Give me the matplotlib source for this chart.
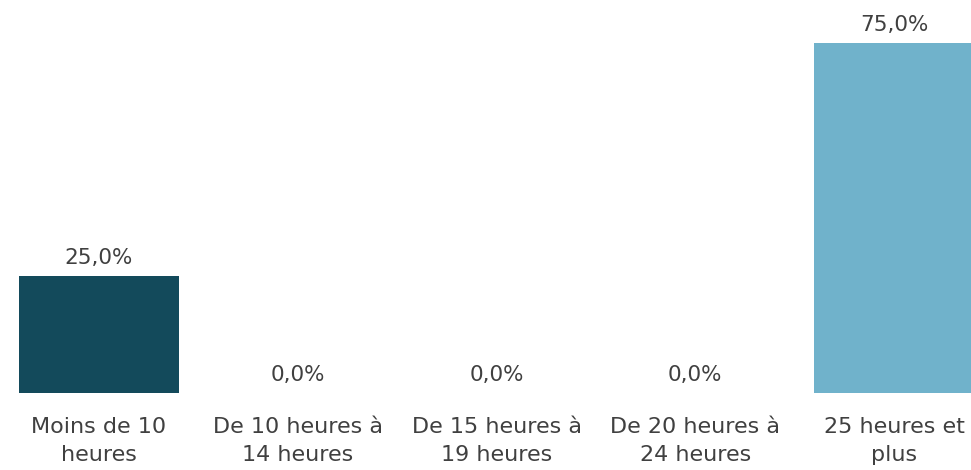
import matplotlib.pyplot as plt

categories = ["Moins de 10\nheures", "De 10 heures à\n14 heures", "De 15 heures à\n19 heures",
              "De 20 heures à\n24 heures", "25 heures et\nplus"]
values = [25.0, 0.0, 0.0, 0.0, 75.0]
colors = ["#134a5b", "#134a5b", "#134a5b", "#134a5b", "#70b2cb"]

plt.rcParams["font.family"] = ["DejaVu Sans"]
TEXT = "#404040"

fig = plt.figure(figsize=(9.71, 4.70), dpi=100)
ax = fig.add_axes([0, 77 / 470, 1, 373.3 / 470])

x = range(len(values))
bars = ax.bar(x, values, width=0.805, color=colors, edgecolor="none")

for xi, v in zip(x, values):
    ax.annotate(f"{v:.1f}%".replace(".", ","), (xi, v), xytext=(0, 6), textcoords="offset points",
                ha="center", va="bottom", fontsize=15.5, color=TEXT)

ax.set_xlim(-0.498, 4.387)
ax.set_ylim(0, 80)
ax.set_xticks(list(x))
ax.set_xticklabels(categories, fontsize=16, color=TEXT, linespacing=1.55)
ax.tick_params(axis="x", length=0, pad=17)
ax.set_yticks([])
for s in ax.spines.values():
    s.set_visible(False)

fig.savefig("out.png", dpi=100)
